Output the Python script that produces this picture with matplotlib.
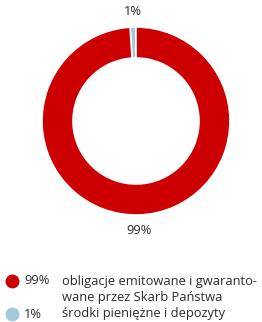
import matplotlib.pyplot as plt
from matplotlib.lines import Line2D

plt.rcParams['font.family'] = ['Open Sans', 'DejaVu Sans']

# data
shares = [1, 99]
pct_labels = ['1%', '99%']
legend_names = [['środki pieniężne i depozyty'],
                ['obligacje emitowane i gwaranto-', 'wane przez Skarb Państwa']]
colors = ['#a3c8d8', '#cc0000']

W, H = 262, 322
FS = 9.3
TXT = '#2b2b2b'
fig = plt.figure(figsize=(W / 100, H / 100), dpi=100)

# donut: centre (136, 121), outer radius 94 px
cx, cy, r = 136, 121, 94
ax = fig.add_axes([(cx - r) / W, 1 - (cy + r) / H, 2 * r / W, 2 * r / H])
wedges, texts = ax.pie(shares, colors=colors, labels=pct_labels,
                       startangle=90, counterclock=True, labeldistance=1.17,
                       wedgeprops=dict(width=0.33, edgecolor='white', linewidth=1.2),
                       textprops=dict(fontsize=FS, color=TXT))
for t in texts:
    t.set_ha('center')
    t.set_va('center')
ax.set_xlim(-1, 1)
ax.set_ylim(-1, 1)
ax.set_aspect('equal')
ax.axis('off')

# legend (red first), pixel rows from top
rows = [(281, 1), (314, 0)]
for y, i in rows:
    fy = 1 - y / H
    fig.add_artist(Line2D([12 / W], [fy], marker='o', markersize=9,
                          color=colors[i], transform=fig.transFigure))
    fig.text(24 / W, fy, pct_labels[i], fontsize=FS, color=TXT,
             ha='left', va='center')
    for k, line in enumerate(legend_names[i]):
        fig.text(62 / W, 1 - (y + 17 * k) / H, line, fontsize=FS, color=TXT,
                 ha='left', va='center')

fig.savefig('out.png', dpi=100)
